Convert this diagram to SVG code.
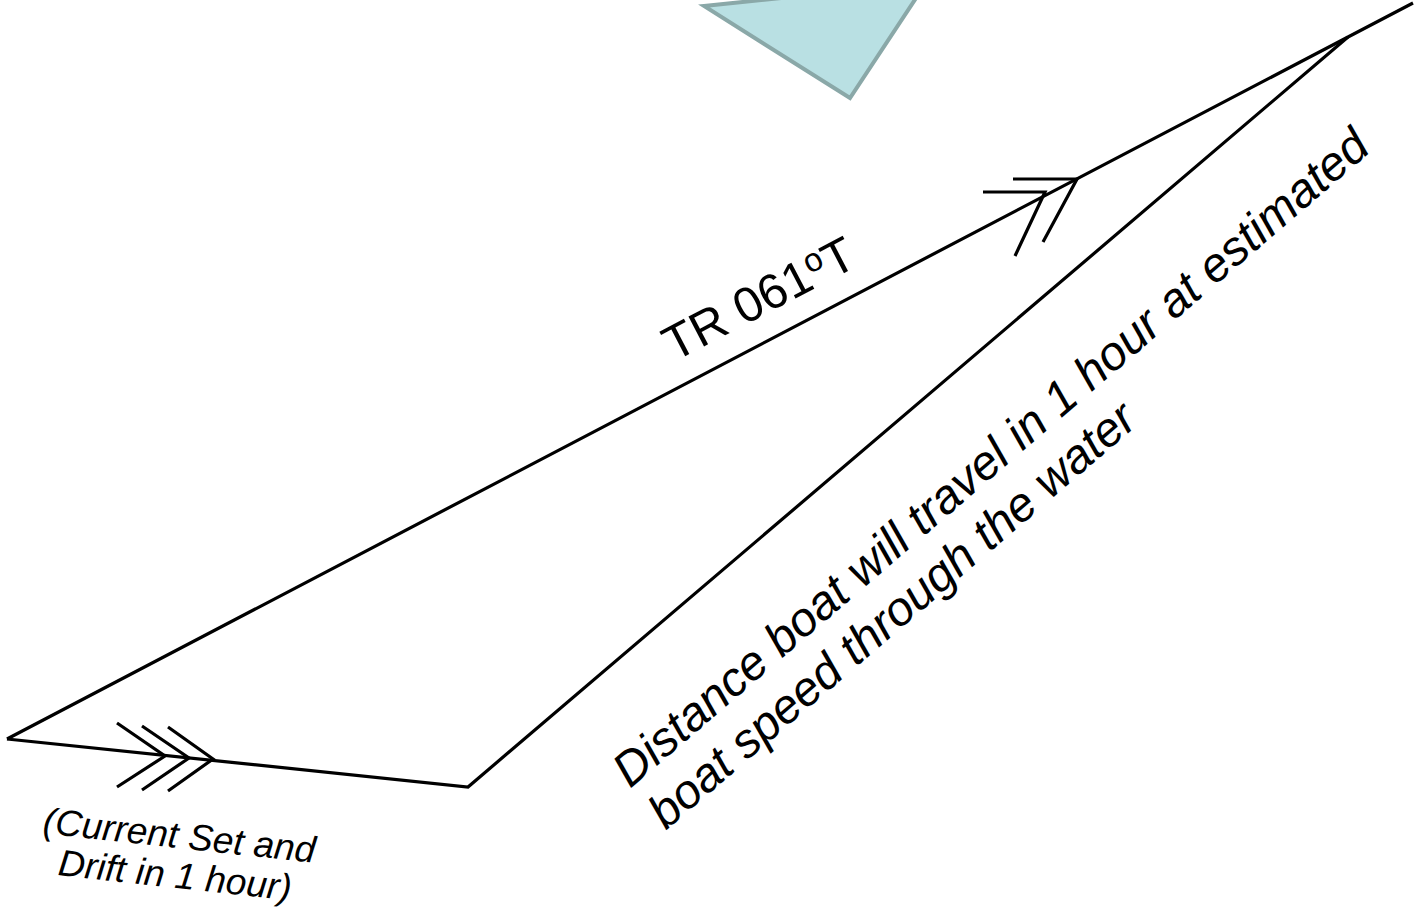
<svg xmlns="http://www.w3.org/2000/svg" width="1415" height="907" viewBox="0 0 1415 907">
<style>
.ln{fill:none;stroke:#000;stroke-width:3.2;stroke-linecap:butt;stroke-linejoin:miter}
.t{font-family:"Liberation Sans",Arial,sans-serif;fill:#000}
.it{font-style:italic}
</style>
<rect width="1415" height="907" fill="#fff"/>
<g id="marker-triangle">
<polygon points="704,6 926,-17 850,98" fill="#B9E0E3" stroke="#8AA8A8" stroke-width="4" stroke-linejoin="miter"/>
</g>
<g id="connectors">
<polyline class="ln" points="7,739 1348,37 1413,3"/>
<polyline class="ln" points="1348,37 468,787 7,739"/>
<polyline class="ln" points="1013,179 1077,179 1043,242"/>
<polyline class="ln" points="983,192 1045,192 1015,256"/>
<polyline class="ln" points="117,723 165,756 117,787"/>
<polyline class="ln" points="142,726 189,758 142,790"/>
<polyline class="ln" points="168,727 213,759 168,791"/>
</g>
<g id="label-tr">
<text class="t" font-size="49" transform="translate(674,362) rotate(-27.6)">TR 061<tspan font-size="33" dy="-15">o</tspan><tspan font-size="49" dy="15">T</tspan></text>
</g>
<g id="label-distance">
<text class="t it" font-size="48" transform="translate(630,789) rotate(-40.7)"><tspan x="0" y="0">Distance boat will travel in 1 hour at estimated</tspan><tspan x="0" y="55">boat speed through the water</tspan></text>
</g>
<g id="label-current">
<text class="t it" font-size="37" text-anchor="middle" transform="translate(178,848) rotate(6.2)"><tspan x="0" y="0">(Current Set and</tspan><tspan x="0" y="40">Drift in 1 hour)</tspan></text>
</g>
</svg>
